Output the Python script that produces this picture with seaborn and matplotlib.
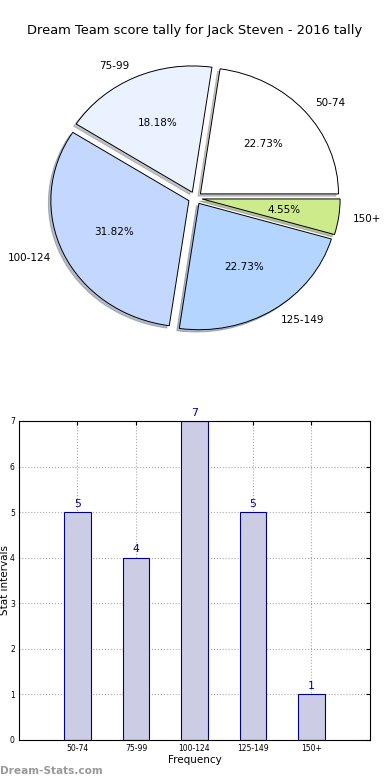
import matplotlib
matplotlib.use("Agg")
import matplotlib.pyplot as plt
import seaborn as sns
import pandas as pd

categories = ["50-74", "75-99", "100-124", "125-149", "150+"]
counts = [5, 4, 7, 5, 1]
pie_colors = ["#FFFFFF", "#EAF1FF", "#C4D8FF", "#B3D5FF", "#CDEB8B"]
title = "Dream Team score tally for Jack Steven - 2016 tally"

sns.set_style("white")
plt.rcParams['font.family'] = ['DejaVu Sans']
plt.rcParams.update({"text.color": "black", "axes.labelcolor": "black",
                     "xtick.color": "black", "ytick.color": "black"})

fig = plt.figure(figsize=(3.9, 7.8), dpi=100)

# Pie (slightly squashed vertically, as in the reference)
axp = fig.add_axes([0.058, 0.5436, 0.885, 0.405])
axp.pie(counts, labels=categories, colors=pie_colors, explode=[0.05] * len(counts),
        autopct="%1.2f%%", shadow=dict(ox=-0.013, oy=-0.013, shade=0.45),
        startangle=0, counterclock=True,
        wedgeprops=dict(edgecolor="black", linewidth=0.7),
        textprops=dict(fontsize=7.5, color="black"))
axp.set_aspect("auto")
axp.set_xlim(-1.25, 1.25)
axp.set_ylim(-1.25, 1.25)
fig.text(0.5, 0.961, title, ha="center", va="center", fontsize=9.4)

# Bar
axb = fig.add_axes([0.0487, 0.0513, 0.9, 0.409])
df = pd.DataFrame({"cat": categories, "count": counts})
sns.barplot(data=df, x="cat", y="count", ax=axb, color="#CCCCE5", width=0.45,
            edgecolor="#00008B", linewidth=0.8, saturation=1)
axb.set_xlim(-1, 5)
axb.set_ylim(0, 7)
axb.set_xlabel("Frequency", fontsize=7.5, labelpad=1)
axb.set_ylabel("Stat intervals", fontsize=7.5)
axb.tick_params(axis="both", labelsize=5.5, direction="in", length=3, top=True, right=True,
                pad=3)
axb.grid(True, linestyle=":", color="#AAAAAA", linewidth=0.8)
axb.set_axisbelow(True)
for s in axb.spines.values():
    s.set_color("black")
    s.set_linewidth(0.8)
for i, v in enumerate(counts):
    axb.text(i, v + 0.07, str(v), ha="center", va="bottom", color="#00008B", fontsize=7.8)
axb.yaxis.set_label_coords(-0.025, 0.5)

fig.text(0.0, 0.012, "Dream-Stats.com", color="#999999", fontsize=7.6, fontweight="bold",
         ha="left", va="center")

fig.savefig("out.png", dpi=100)
